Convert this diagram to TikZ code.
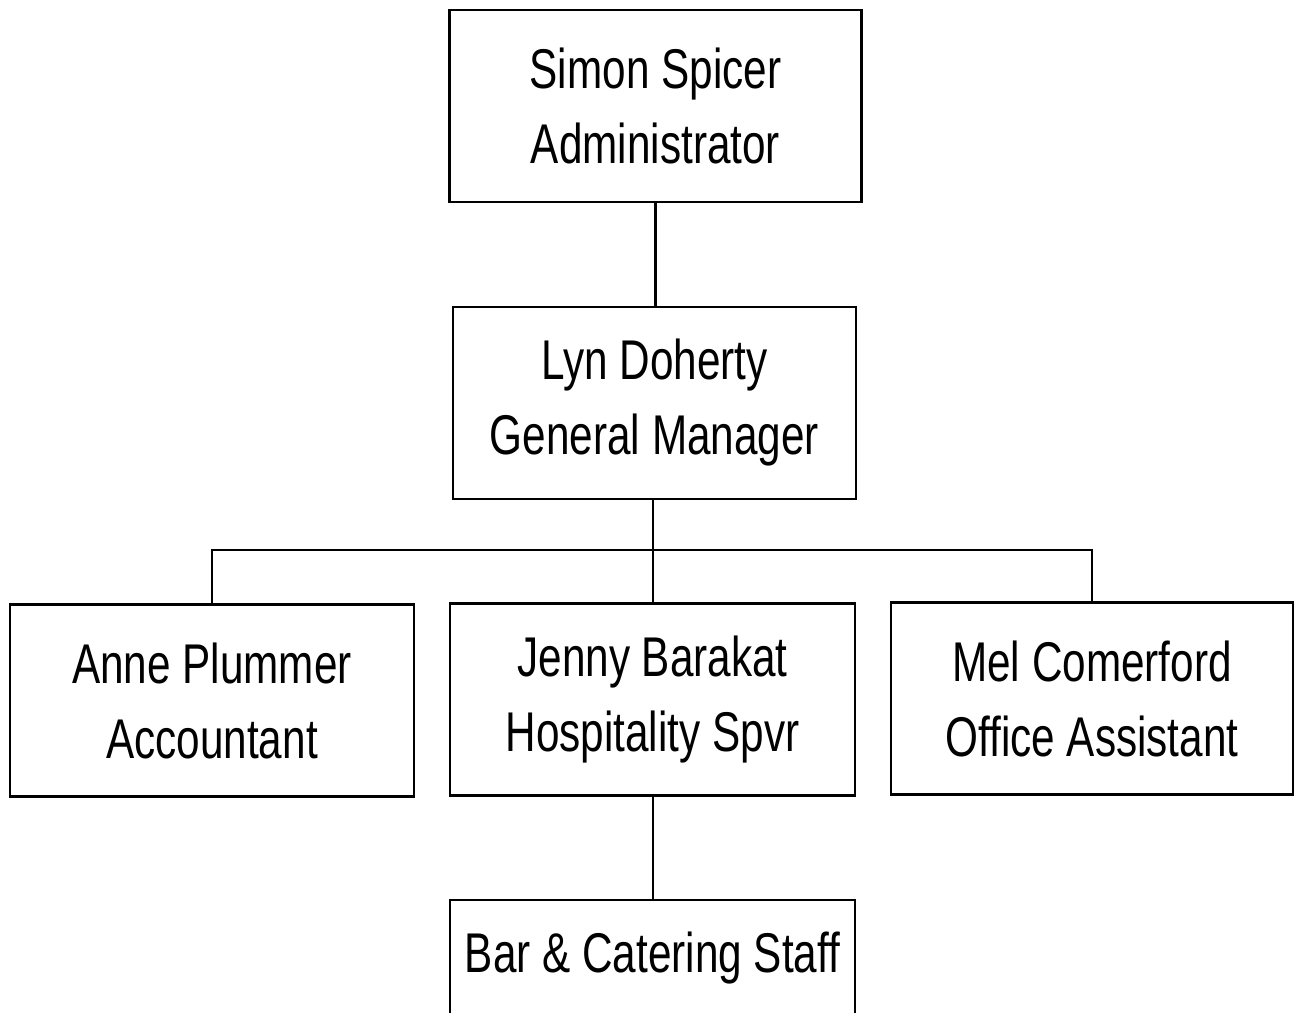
\documentclass[tikz,border=0pt]{standalone}
\usepackage{fontspec}
\setmainfont{Liberation Sans}[FakeStretch=0.755]
\begin{document}
\begin{tikzpicture}[x=1pt,y=-1pt,
  box/.style={draw, line width=2.6pt, align=center, inner sep=0pt,
    minimum width=404pt, minimum height=192pt,
    font=\fontsize{56}{75}\selectfont},
  link/.style={line width=2.6pt}]
\useasboundingbox (0,0) rectangle (1295,1012);
\node[box, minimum width=412pt] (simon) at (655.5,106) {Simon Spicer\\Administrator};
\node[box, minimum width=403pt] (lyn) at (654.5,403) {Lyn Doherty\\General Manager};
\node[box] (anne) at (212,700.5) {Anne Plummer\\Accountant};
\node[box, minimum width=405pt] (jenny) at (652.5,699.5) {Jenny Barakat\\Hospitality Spvr};
\node[box, minimum width=402pt] (mel) at (1092,698.5) {Mel Comerford\\Office Assistant};
\node[box, minimum width=405pt, minimum height=116pt] (bar) at (652.5,958) {Bar \& Catering Staff};
\coordinate (bus) at (653,550);
\draw[link] (simon.south) -- (simon.south |- lyn.north);
\draw[link] (lyn.south -| bus) -- (bus);
\draw[link] (anne.north) |- (bus) -| (mel.north);
\draw[link] (bus) -- (bus |- jenny.north);
\draw[link] (jenny.south -| bus) -- (bus |- bar.north);
\end{tikzpicture}
\end{document}
